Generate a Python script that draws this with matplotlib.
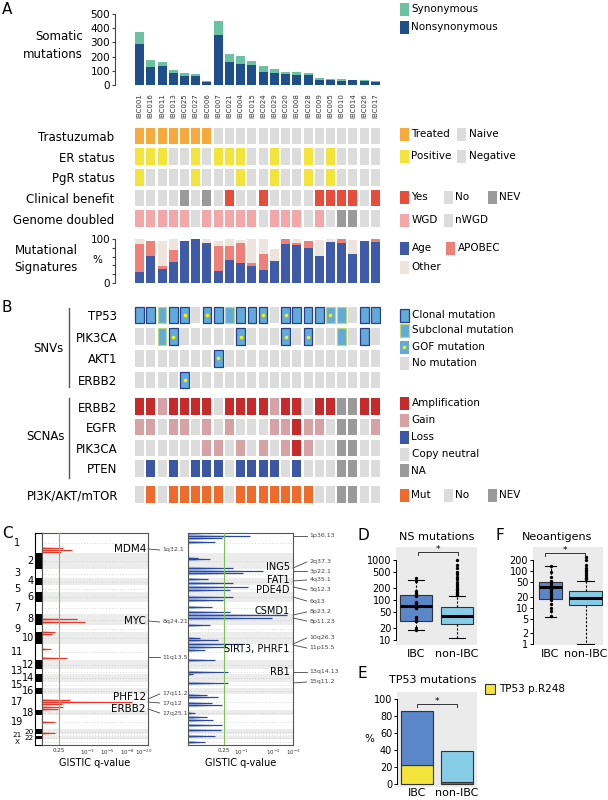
import numpy as np
import matplotlib
matplotlib.use("Agg")
import matplotlib.pyplot as plt
from matplotlib.patches import Rectangle

W, H = 608, 800

# ---------------- A: per-sample data ----------------
samples = ["IBC001", "IBC016", "IBC011", "IBC013", "IBC025", "IBC027", "IBC006", "IBC007",
           "IBC021", "IBC004", "IBC015", "IBC024", "IBC029", "IBC020", "IBC008", "IBC028",
           "IBC009", "IBC005", "IBC010", "IBC014", "IBC026", "IBC017"]
nonsyn = [290, 125, 135, 85, 62, 62, 20, 350, 165, 148, 138, 90, 85, 75, 70, 68, 37, 35, 30, 32, 30, 18]
syn = [80, 50, 30, 20, 23, 18, 10, 100, 50, 57, 32, 45, 25, 20, 20, 20, 11, 10, 10, 6, 7, 10]

# one character per sample
trastuzumab = "TTTTTTTNNNNNNNNNNNNNNN"
er_status = "PPPNNPNPPPNNPNNPNPNNNN"
pgr_status = "PNNNNPNNNPNNPNNPNPNNNN"
clin_benefit = "NNNNXNXNYNNYNNNNYYYYNY"
genome_doubled = "WWWWWNWWWWWNWWWNWNXXNN"

sig_age = [26, 62, 32, 48, 95, 100, 90, 28, 53, 45, 39, 29, 50, 89, 86, 79, 62, 94, 92, 66, 96, 94]
sig_apobec = [62, 34, 6, 26, 0, 0, 0, 57, 30, 45, 6, 37, 0, 11, 6, 17, 0, 0, 8, 0, 0, 6]
sig_other = [12, 0, 58, 25, 0, 0, 10, 11, 17, 8, 55, 34, 27, 0, 8, 0, 36, 6, 0, 32, 0, 0]

# ---------------- B ----------------
snv_genes = ["TP53", "PIK3CA", "AKT1", "ERBB2"]
# C clonal, S subclonal, c clonal+GOF, s subclonal+GOF, - none
snv_calls = ["CCSCc-cCSCCc-cCCCsS-CC",
             "--Sc-----c---c-c--S-C-",
             "-------c--------------",
             "----c-----------------"]
scna_genes = ["ERBB2", "EGFR", "PIK3CA", "PTEN"]
scna_calls = ["AAGAAAANAAAAGAANAAXXAA",
              "GGNGGNGNGNNNGGAGGNXXNG",
              "NNNNNNGGNGNGNGAGNNXXNN",
              "NLNLNLLLNLLLLNLNNNXXNN"]
pathway = "NMNMMMMMNMMMMMMMNNXXNN"

# ---------------- C: GISTIC ----------------
chroms = [str(i) for i in range(1, 23)] + ["X"]
chrom_span = [20, 16, 9, 7, 7, 10, 12, 11, 7, 12, 16, 9, 5, 8, 6, 6, 16, 5, 14, 5, 2, 3, 6]
amp_pos = [15, 17, 18.5, 86, 89, 99, 101, 116, 125, 167, 169, 171, 174, 176, 189, 200]
amp_logq = [0.95, 1.7, 0.8, 2.1, 2.8, 0.46, 0.35, 0.31, 1.28, 1.53, 13.9, 0.83, 0.9, 0.58, 0.46, 0.46]
del_pos = [0, 3, 5, 9, 25, 26, 35, 38, 40, 46, 50, 54, 57, 64, 67, 74, 79, 82, 85, 92,
           105, 107, 111, 114, 117, 127, 139, 141, 150, 162, 164, 170, 172, 180, 184, 187,
           192, 197, 203, 209]
del_logq = [0.40, 1.28, 0.57, 0.45, 0.17, 0.37, 0.82, 1.69, 1.06, 0.33, 0.82, 1.22, 0.74,
            0.82, 0.58, 0.40, 0.74, 2.7, 1.97, 0.37, 0.20, 0.50, 1.03, 0.67, 0.28, 0.45,
            0.70, 0.08, 0.70, 0.32, 0.50, 0.40, 0.57, 0.12, 0.32, 0.42, 0.57, 0.55, 0.45, 0.28]
amp_genes = [("MDM4", 16), ("MYC", 88), ("PHF12", 164), ("ERBB2", 176)]
amp_bands = [("1q32.1", 16, 17), ("8q24.21", 88, 89), ("11q13.5", 124, 124),
             ("17q11.2", 166, 161), ("17q12", 169, 170), ("17q25.1", 176, 180)]
del_genes = [("ING5", 34), ("FAT1", 47), ("PDE4D", 57), ("CSMD1", 78),
             ("SIRT3, PHRF1", 116), ("RB1", 139)]
del_bands = [("1p36.13", 3, 3), ("2q37.3", 35, 29), ("3p22.1", 38, 38), ("4q35.1", 48, 47),
             ("5q12.3", 54, 57), ("6q13", 64, 68), ("8p23.2", 82, 79), ("8p11.23", 85, 88),
             ("10q26.3", 111, 105), ("11p15.5", 112, 115), ("13q14.13", 139, 139),
             ("15q11.2", 150, 149)]

# ---------------- D / F / E ----------------
groups = ["IBC", "non-IBC"]
ns_stats = [dict(med=71, q1=30, q3=135, whislo=18, whishi=318),
            dict(med=40, q1=25, q3=65, whislo=11, whishi=123)]
ns_fliers = [[], [130, 140, 150, 160, 170, 180, 200, 220, 250, 280, 320, 370, 430, 500, 600, 750, 1000]]
neo_stats = [dict(med=37, q1=17, q3=51, whislo=5.6, whishi=137),
             dict(med=19, q1=12, q3=28, whislo=1, whishi=53)]
neo_fliers = [[], [60, 65, 70, 80, 90, 100, 110, 120, 150, 200, 240]]
neo_ibc_points = [140, 95, 70, 55, 48, 44, 40, 38, 36, 33, 30, 27, 24, 21, 19, 16, 13, 10, 8, 6]
tp53_total = [86, 38.5]
tp53_r248 = [22, 2]

# ---------------- colours ----------------
C_SYN, C_NON = "#6cc1a2", "#1f4e8d"
GREY, DARK = "#dcdcdc", "#9a9a9a"
C_ORANGE, C_YELLOW, C_RED, C_PINK = "#f8a93b", "#f2e43a", "#e84c3b", "#f4a7a9"
C_AGE, C_APO, C_OTH = "#3e5aa9", "#ee7f79", "#ede5dd"
C_AMP, C_GAIN, C_LOSS, C_MUT = "#c62a2a", "#d6a2a5", "#3b56a5", "#ee6a2d"
C_SNV, C_CLON, C_SUB, C_GOF = "#63a9da", "#25408f", "#b8d87c", "#f4f000"
C_BOX1, C_BOX2 = "#5b87c9", "#88cde8"

plt.rcParams["font.family"] = "DejaVu Sans"
fig = plt.figure(figsize=(W / 100, H / 100), dpi=100)


def px_axes(x0, y0, x1, y1, **kw):
    return fig.add_axes([x0 / W, 1 - y1 / H, (x1 - x0) / W, (y1 - y0) / H], **kw)


def clear(ax):
    for s in ax.spines.values():
        s.set_visible(False)
    ax.set_xticks([])
    ax.patch.set_visible(False)


XL, XR = 134, 381
n = len(samples)
x = np.arange(n)

# ---- A: bars ----
ax = px_axes(XL, 14, XR, 85)
ax.bar(x, nonsyn, width=0.8, color=C_NON)
ax.bar(x, syn, width=0.8, bottom=nonsyn, color=C_SYN)
ax.set_xlim(-0.5, n - 0.5)
ax.set_ylim(0, 500)
for s in ["top", "right", "bottom"]:
    ax.spines[s].set_visible(False)
ax.spines["left"].set_position(("outward", 13.7))
ax.spines["left"].set_bounds(0, 500)
ax.spines["left"].set_color("#444")
ax.set_yticks(range(0, 501, 100))
ax.tick_params(axis="y", length=2.5, width=0.8, labelsize=7.5, pad=1, color="#444")
ax.set_xticks(x)
ax.set_xticklabels(samples, rotation=90, fontsize=5, color="#333")
ax.tick_params(axis="x", length=0, pad=6)
ax.patch.set_visible(False)

# ---- A: clinical rows ----
ax = px_axes(XL, 125.6, XR, 229.1)
rows = [(trastuzumab, {"T": C_ORANGE, "N": GREY}),
        (er_status, {"P": C_YELLOW, "N": GREY}),
        (pgr_status, {"P": C_YELLOW, "N": GREY}),
        (clin_benefit, {"Y": C_RED, "N": GREY, "X": DARK}),
        (genome_doubled, {"W": C_PINK, "N": GREY, "X": DARK})]
for r, (codes, cmap) in enumerate(rows):
    ax.bar(x, 0.8, bottom=r - 0.4, width=0.8, color=[cmap[c] for c in codes], linewidth=0)
ax.set_xlim(-0.5, n - 0.5)
ax.set_ylim(4.5, -0.5)
clear(ax)
ax.set_yticks(range(5))
ax.set_yticklabels(["Trastuzumab", "ER status", "PgR status", "Clinical benefit", "Genome doubled"],
                   fontsize=8.5)
ax.tick_params(axis="y", length=0, pad=14)

# ---- A: signatures ----
ax = px_axes(XL, 239, XR, 283)
ax.bar(x, sig_age, width=0.8, color=C_AGE)
ax.bar(x, sig_apobec, width=0.8, bottom=sig_age, color=C_APO)
ax.bar(x, sig_other, width=0.8, bottom=np.add(sig_age, sig_apobec), color=C_OTH)
ax.set_xlim(-0.5, n - 0.5)
ax.set_ylim(0, 100)
for s in ["top", "right", "bottom"]:
    ax.spines[s].set_visible(False)
ax.spines["left"].set_position(("outward", 13.7))
ax.spines["left"].set_color("#444")
ax.set_xticks([])
ax.set_yticks(range(0, 101, 20))
ax.set_yticklabels(["0", "", "", "", "", "100"])
ax.tick_params(axis="y", length=2.5, width=0.8, labelsize=7.5, pad=1, color="#444")
ax.patch.set_visible(False)

# ---- B: SNVs ----
ax = px_axes(XL, 304.2, XR, 390.9)
h = 0.76
for r, codes in enumerate(snv_calls):
    none = [i for i, c in enumerate(codes) if c == "-"]
    clon = [i for i, c in enumerate(codes) if c in "Cc"]
    sub = [i for i, c in enumerate(codes) if c in "Ss"]
    gof = [i for i, c in enumerate(codes) if c in "cs"]
    ax.bar(none, h, bottom=r - h / 2, width=0.8, color=GREY, linewidth=0)
    ax.bar(clon, h, bottom=r - h / 2, width=0.78, color=C_SNV, edgecolor=C_CLON, linewidth=0.9)
    ax.bar(sub, h, bottom=r - h / 2, width=0.78, color=C_SNV, edgecolor=C_SUB, linewidth=0.9)
    ax.scatter(gof, [r] * len(gof), s=7, color=C_GOF, zorder=3, linewidths=0)
ax.set_xlim(-0.5, n - 0.5)
ax.set_ylim(3.5, -0.5)
clear(ax)
ax.set_yticks(range(4))
ax.set_yticklabels(snv_genes, fontsize=8.5)
ax.tick_params(axis="y", length=0, pad=12)

# ---- B: SCNAs ----
ax = px_axes(XL, 396.2, XR, 478.8)
scna_cmap = {"A": C_AMP, "G": C_GAIN, "L": C_LOSS, "N": GREY, "X": DARK}
for r, codes in enumerate(scna_calls):
    ax.bar(x, 0.8, bottom=r - 0.4, width=0.8, color=[scna_cmap[c] for c in codes], linewidth=0)
ax.set_xlim(-0.5, n - 0.5)
ax.set_ylim(3.5, -0.5)
clear(ax)
ax.set_yticks(range(4))
ax.set_yticklabels(scna_genes, fontsize=8.5)
ax.tick_params(axis="y", length=0, pad=12)

# ---- B: pathway ----
ax = px_axes(XL, 484, XR, 505)
path_cmap = {"M": C_MUT, "N": GREY, "X": DARK}
ax.bar(x, 0.79, bottom=-0.395, width=0.8, color=[path_cmap[c] for c in pathway], linewidth=0)
ax.set_xlim(-0.5, n - 0.5)
ax.set_ylim(0.5, -0.5)
clear(ax)
ax.set_yticks([0])
ax.set_yticklabels(["PI3K/AKT/mTOR"], fontsize=8.5)
ax.tick_params(axis="y", length=0, pad=11)

# ---- C ----
starts = np.concatenate([[0], np.cumsum(chrom_span)[:-1]])
mids = starts + np.array(chrom_span) / 2
total = sum(chrom_span)

ax = px_axes(35, 533, 42, 745)
ax.barh(mids, 1, height=chrom_span,
        color=["black" if i % 2 else "white" for i in range(len(chroms))], linewidth=0)
ax.set_xlim(0, 1)
ax.set_ylim(total, 0)
ax.set_xticks([])
ax.set_yticks([])
for s in ax.spines.values():
    s.set_linewidth(0.8)
tr = ax.get_yaxis_transform()
for i, (c, m) in enumerate(zip(chroms, mids)):
    fs = 7 if i < 19 else 5.2
    if i % 2:
        ax.text(-0.15, m, c, transform=tr, ha="right", va="center", fontsize=fs)
    else:
        ax.text(-2.5, m, c, transform=tr, ha="center", va="center", fontsize=fs)


def gistic_panel(rect, ticks_t, ticks_p, tick_labels, tmax, pos, logq, dark, light, hw):
    a = px_axes(*rect)
    a.set_xscale("function", functions=(lambda t: np.interp(t, ticks_t, ticks_p),
                                        lambda p: np.interp(p, ticks_p, ticks_t)))
    a.set_xlim(0, tmax)
    a.set_ylim(total, 0)
    for i in range(1, len(chroms), 2):
        a.axhspan(starts[i], starts[i] + chrom_span[i], color="#ececec", lw=0, zorder=0)
    for m in mids:
        a.axhline(m, color="#b5b5b5", lw=0.5, ls=(0, (1, 3)), zorder=0.5)
    for p, q in zip(pos, logq):
        a.fill_betweenx([p - hw, p, p + hw], 0, [0, q, 0], color=light, lw=0, zorder=1)
        a.hlines(p, 0, q, color=dark, lw=0.9, zorder=2)
    a.axvline(0.602, color="#7cc05a", lw=0.8, zorder=3)
    a.set_yticks([])
    a.set_xticks(ticks_t[1:len(tick_labels) + 1])
    a.set_xticklabels(tick_labels, fontsize=4.1, color="#333")
    a.tick_params(axis="x", length=0, pad=2)
    a.set_xlabel("GISTIC q-value", fontsize=7, labelpad=1)
    for s in a.spines.values():
        s.set_linewidth(0.8)
        s.set_color("#555")
    return a


amp_t = [0, 0.602, 3, 5, 8, 20, 22]
amp_p = [0, 0.16, 0.43, 0.62, 0.74, 0.96, 1.0]
ax = gistic_panel((42, 533, 148, 745), amp_t, amp_p,
                  ["0.25", "10$^{-3}$", "10$^{-5}$", "10$^{-8}$", "10$^{-20}$"], 22,
                  amp_pos, amp_logq, "#e5382d", "#f3a19c", 1.4)
ax.get_xticklabels()[3].set_horizontalalignment("left")
tr = ax.get_yaxis_transform()
for g, y in amp_genes:
    ax.text(0.98, y, g, transform=tr, ha="right", va="center", fontsize=7.5)
for b, y0, y1 in amp_bands:
    ax.plot([1.0, 1.11], [y0, y1], transform=tr, color="#444", lw=0.6, clip_on=False)
    ax.text(1.14, y1, b, transform=tr, ha="left", va="center", fontsize=4.5, color="#444")

del_t = [0, 0.602, 1, 2, 3]
del_p = [0, 0.343, 0.505, 0.81, 1.0]
ax = gistic_panel((188, 533, 293, 745), del_t, del_p,
                  ["0.25", "10$^{-1}$", "10$^{-2}$", "10$^{-3}$"], 3,
                  del_pos, del_logq, "#2c4a9b", "#9fb3e0", 1.8)
tr = ax.get_yaxis_transform()
for g, y in del_genes:
    ax.text(0.97, y, g, transform=tr, ha="right", va="center", fontsize=7)
for b, y0, y1 in del_bands:
    ax.plot([1.0, 1.13], [y0, y1], transform=tr, color="#444", lw=0.6, clip_on=False)
    ax.text(1.16, y1, b, transform=tr, ha="left", va="center", fontsize=4.5, color="#444")


# ---- D / F boxes ----
def box_panel(rect, stats, fliers, widths, ylim, ticks, points=None):
    a = px_axes(*rect)
    a.set_facecolor("#ebebeb")
    st = [dict(s, fliers=f, label=g) for s, f, g in zip(stats, fliers, groups)]
    b = a.bxp(st, positions=[0, 1], widths=widths, patch_artist=True, showfliers=True,
              boxprops=dict(edgecolor="#333", linewidth=0.8),
              medianprops=dict(color="black", linewidth=2.2),
              whiskerprops=dict(color="black", linewidth=0.8, linestyle=(0, (2, 1.5))),
              capprops=dict(color="black", linewidth=0.8),
              flierprops=dict(marker="o", markersize=1.4, markerfacecolor="black",
                              markeredgecolor="black"))
    for patch, col in zip(b["boxes"], [C_BOX1, C_BOX2]):
        patch.set_facecolor(col)
    for cap, w in zip(b["caps"], [widths[0], widths[0], widths[1], widths[1]]):
        c = cap.get_xdata().mean()
        cap.set_xdata([c - w / 4, c + w / 4])
    if points is not None:
        a.plot([0] * len(points), points, "o", ms=1.4, color="black")
    a.set_yscale("log")
    a.set_ylim(*ylim)
    a.set_xlim(-0.5, 1.5)
    a.set_yticks(ticks)
    a.set_yticklabels([str(t) for t in ticks])
    a.minorticks_off()
    a.tick_params(axis="y", length=2.5, width=0.7, labelsize=7, pad=1)
    a.tick_params(axis="x", length=0, labelsize=8, pad=3)
    for s in ["top", "right", "bottom"]:
        a.spines[s].set_visible(False)
    a.spines["left"].set_bounds(ticks[0], ticks[-1])
    a.spines["left"].set_linewidth(0.7)
    return a


box_panel((396, 547, 477, 645), ns_stats, ns_fliers, [0.78, 0.8], (7.5, 2050),
          [10, 20, 50, 100, 200, 500, 1000], points=nonsyn)
box_panel((533, 547, 603, 645), neo_stats, neo_fliers, [0.66, 0.94], (0.94, 465),
          [1, 2, 5, 10, 20, 50, 100, 200], points=neo_ibc_points)

# ---- E ----
ax = px_axes(397, 692, 477, 787)
ax.set_facecolor("#ebebeb")
ax.bar([0, 1], tp53_r248, width=0.78, color=[C_YELLOW, "#6f7d3c"], edgecolor="#333", linewidth=0.8)
ax.bar([0, 1], np.subtract(tp53_total, tp53_r248), bottom=tp53_r248, width=0.78,
       color=[C_BOX1, C_BOX2], edgecolor="#333", linewidth=0.8)
ax.set_xlim(-0.5, 1.5)
ax.set_ylim(-3.5, 108)
ax.set_yticks(range(0, 101, 20))
ax.set_xticks([0, 1])
ax.set_xticklabels(groups)
ax.tick_params(axis="y", length=2.5, width=0.7, labelsize=7, pad=1)
ax.tick_params(axis="x", length=0, labelsize=8, pad=1)
for s in ["top", "right", "bottom"]:
    ax.spines[s].set_visible(False)
ax.spines["left"].set_bounds(0, 100)
ax.spines["left"].set_linewidth(0.7)
ax.set_ylabel("%", rotation=0, fontsize=7.5, labelpad=3, va="center")

# ---- overlay: labels, legends, brackets ----
ov = fig.add_axes([0, 0, 1, 1], zorder=10)
ov.set_xlim(0, W)
ov.set_ylim(H, 0)
ov.axis("off")


def key(x0, y, color, label, edge=None, dot=False):
    ov.add_patch(Rectangle((x0, y - 6.5), 8.5, 13, facecolor=color,
                           edgecolor=edge if edge else color, lw=0.9 if edge else 0))
    if dot:
        ov.plot(x0 + 4.25, y, "o", ms=2.6, color=C_GOF, mec="none")
    ov.text(x0 + 11.5, y, label, ha="left", va="center", fontsize=7.5)


key(400, 9, C_SYN, "Synonymous")
key(400, 27, C_NON, "Nonsynonymous")
key(400, 134, C_ORANGE, "Treated")
key(457, 134, GREY, "Naive")
key(400, 156, C_YELLOW, "Positive")
key(457, 156, GREY, "Negative")
key(400, 197, C_RED, "Yes")
key(444, 197, GREY, "No")
key(488, 197, DARK, "NEV")
key(400, 220, C_PINK, "WGD")
key(444, 220, GREY, "nWGD")
key(400, 248, C_AGE, "Age")
key(446, 248, C_APO, "APOBEC")
key(400, 267, C_OTH, "Other")
key(400, 315, C_SNV, "Clonal mutation", edge=C_CLON)
key(400, 330, C_SNV, "Subclonal mutation", edge=C_SUB)
key(400, 347, C_SNV, "GOF mutation", dot=True)
key(400, 363, GREY, "No mutation")
key(400, 403.5, C_AMP, "Amplification")
key(400, 420, C_GAIN, "Gain")
key(400, 437, C_LOSS, "Loss")
key(400, 454, GREY, "Copy neutral")
key(400, 470.5, DARK, "NA")
key(400, 495, C_MUT, "Mut")
key(444, 495, GREY, "No")
key(488, 495, DARK, "NEV")
ov.add_patch(Rectangle((485, 684), 9.5, 9.5, facecolor=C_YELLOW, edgecolor="#333", lw=0.8))
ov.text(499, 689, "TP53 p.R248", ha="left", va="center", fontsize=7.5)

ov.text(83, 37, "Somatic", ha="right", va="center", fontsize=8.5)
ov.text(83, 55, "mutations", ha="right", va="center", fontsize=8.5)
ov.text(78, 251, "Mutational", ha="right", va="center", fontsize=8.5)
ov.text(78, 268, "Signatures", ha="right", va="center", fontsize=8.5)
ov.text(97, 260, "%", ha="center", va="center", fontsize=7.5)
ov.text(63, 348, "SNVs", ha="right", va="center", fontsize=8.5)
ov.text(65, 437, "SCNAs", ha="right", va="center", fontsize=8.5)
ov.plot([69, 69], [308, 387], color="#555", lw=1)
ov.plot([69, 69], [398, 478], color="#555", lw=1)

for lbl, (lx, ly) in {"A": (7, 10), "B": (7, 308), "C": (7, 533), "D": (363, 535),
                      "F": (500, 535), "E": (362, 673)}.items():
    ov.text(lx, ly, lbl, ha="center", va="center", fontsize=11)
ov.text(437, 537, "NS mutations", ha="center", va="center", fontsize=8)
ov.text(557, 537, "Neoantigens", ha="center", va="center", fontsize=8)
ov.text(433, 680, "TP53 mutations", ha="center", va="center", fontsize=8)

for x0, x1, yb in [(418, 458, 552), (545, 585, 553), (417, 457, 704)]:
    ov.plot([x0, x0, x1, x1], [yb + 2.5, yb, yb, yb + 2.5], color="#333", lw=0.7)
    ov.text((x0 + x1) / 2, yb - 2.5, "*", ha="center", va="center", fontsize=6.5)

fig.savefig("out.png", dpi=100)
